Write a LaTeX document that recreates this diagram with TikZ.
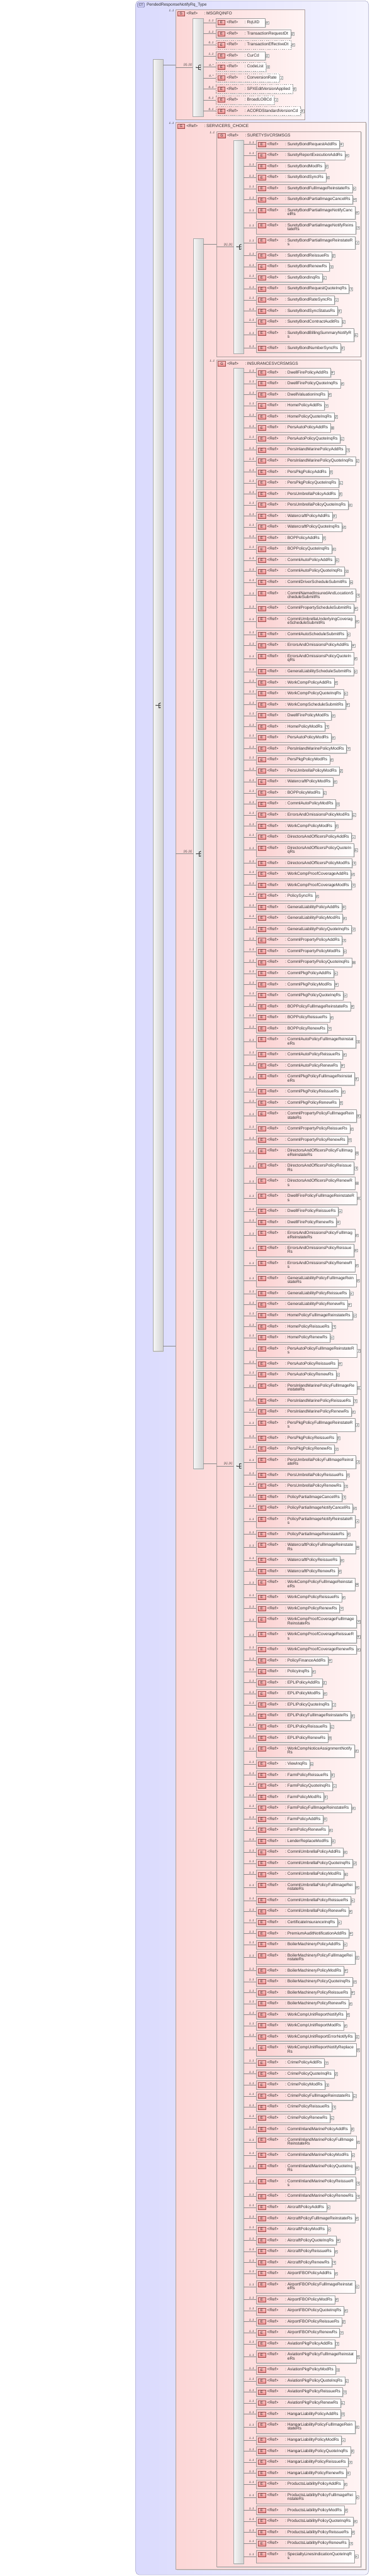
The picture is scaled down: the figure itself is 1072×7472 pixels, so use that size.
\documentclass[tikz,border=0pt]{standalone}
\usepackage{fontspec}
\setmainfont{Liberation Sans}
\usetikzlibrary{shadows}
\definecolor{ctL}{HTML}{DADAFD}
\definecolor{ctR}{HTML}{F4F4FF}
\definecolor{ctB}{HTML}{A9A9C9}
\definecolor{grL}{HTML}{FCD6D6}
\definecolor{grR}{HTML}{FFF4F4}
\definecolor{grB}{HTML}{ADA0A0}
\definecolor{elL}{HTML}{FBCFCF}
\definecolor{elB}{HTML}{9E9E9E}
\definecolor{icT}{HTML}{F9C6C6}
\definecolor{icM}{HTML}{EF8E8E}
\definecolor{icB}{HTML}{A05050}
\definecolor{txt}{HTML}{2E2E2E}
\definecolor{lin}{HTML}{8A8A8A}
\definecolor{brL}{HTML}{F7F7F7}
\definecolor{brR}{HTML}{D2D2D2}
\definecolor{brB}{HTML}{A8A8A8}
\definecolor{ctiF}{HTML}{C9C9F2}
\definecolor{ctiB}{HTML}{6A6A9A}
\newcommand\efont{\fontsize{12}{11.67}\selectfont}
\newcommand\mfont{\fontsize{8.5}{9}\selectfont\itshape}
\newdimen\rowtop
\newcount\ecount
\def\curx{742}
\def\curbar{b4}
\def\elhead{\rule{0pt}{9pt}\hspace*{25pt}\makebox[52pt][l]{<Ref>}\makebox[7pt][l]{:}}
\def\elfoot{\rule[-3pt]{0pt}{3pt}}
\newcommand\minname[1]{\setbox0\hbox{#1}\ifdim\wd0<45pt \hbox to 45pt{#1\hfil}\else\box0\fi}
\tikzset{
 ctbox/.style={draw=ctB, line width=1pt, rounded corners=10pt, left color=ctL, right color=ctR, anchor=north west, inner sep=0pt},
 cticon/.style={draw=ctiB, line width=0.7pt, rounded corners=2pt, fill=ctiF, minimum width=20pt, minimum height=13.5pt, inner sep=0pt, anchor=north west, font=\fontsize{9.5}{10}\selectfont, text=black!80},
 grp/.style={draw=grB, line width=0.9pt, left color=grL, right color=grR, anchor=north west, inner sep=0pt, drop shadow={shadow xshift=2.5pt,shadow yshift=-2.5pt,fill=black!18,opacity=1}},
 cbar/.style={draw=brB, line width=0.8pt, left color=brL, right color=brR, anchor=north west, inner sep=0pt, minimum width=29pt, drop shadow={shadow xshift=2pt,shadow yshift=-2pt,fill=black!15,opacity=1}},
 ebox/.style={draw=elB, line width=0.8pt, left color=elL, right color=white, anchor=north west, inner xsep=7pt, inner ysep=0pt, font=\efont, text=txt, drop shadow={shadow xshift=2.5pt,shadow yshift=-2.5pt,fill=black!16,opacity=1}},
 eicon/.style={draw=icB, line width=0.7pt, top color=icT, bottom color=icM, minimum width=21pt, minimum height=13pt, inner sep=0pt, anchor=north west, font=\fontsize{10}{10}\selectfont, text=black!85},
 plusbtn/.style={draw=black!35, fill=white, minimum size=8.5pt, inner sep=0pt, anchor=west, line width=0.5pt,
   path picture={\draw[black!45,line width=0.6pt] ([xshift=-2.3pt]path picture bounding box.center) -- ([xshift=2.3pt]path picture bounding box.center) ([yshift=-2.3pt]path picture bounding box.center) -- ([yshift=2.3pt]path picture bounding box.center);}},
 mult/.style={font=\mfont, text=txt, inner sep=0.5pt, anchor=south east},
 conn/.style={draw=lin, line width=0.8pt},
 icoc/.style={black!75, line width=0.8pt},
}
% element row: #1 multiplicity, #2 line style, #3 first line, #4 second line
\newcommand\elemrow[4]{%
  \global\advance\ecount by 1
  \edef\ename{e\the\ecount}%
  \pgfmathsetmacro\ry{\the\rowtop}%
  \ifx\relax#4\relax
    \node[ebox,#2,minimum height=25pt] (\ename) at (\curx,\ry) {\elhead\minname{#3}\elfoot};
    \global\advance\rowtop by 32pt
  \else
    \node[ebox,#2,minimum height=36.67pt,align=left] (\ename) at (\curx,\ry) {\elhead#3\\\hspace*{84pt}#4\elfoot};
    \global\advance\rowtop by 43.67pt
  \fi
  \node[eicon] (\ename i) at ([xshift=6pt,yshift=-6pt]\ename.north west) {E};
  \node[plusbtn] (\ename p) at ([xshift=1pt]\ename.east) {};
  \draw[conn] (\curbar.east |- \ename.west) -- (\ename.west);
  \node[mult] (\ename m) at ([xshift=-5pt,yshift=1.5pt]\ename.west) {#1};
}
\newcommand\er[2]{\elemrow{1..1}{solid}{#1}{#2}}
% group header: #1 group node, #2 name
\newcommand\grphead[2]{%
  \node[eicon] (#1i) at ([xshift=5pt,yshift=-5pt]#1.north west) {G};
  \node[anchor=base west,inner sep=0pt,font=\efont,text=txt] (#1t) at ([xshift=31.5pt,yshift=-15.5pt]#1.north west) {\makebox[52pt][l]{<Ref>}\makebox[6pt][l]{:}#2};
  \node[mult,anchor=north east] (#1m) at ([xshift=-4pt]#1.north west) {1..1};
}
% compositor icon on a bar
\newcommand\compicon[1]{%
  \fill[icoc] ([xshift=-5.5pt]#1.center) circle (1.6pt);
  \draw[icoc] ([xshift=-5.5pt]#1.center) -- ([xshift=1.5pt]#1.center);
  \draw[icoc] ([xshift=1.5pt,yshift=6.5pt]#1.center) -- ([xshift=1.5pt,yshift=-6.5pt]#1.center);
  \foreach \dy in {6.5,0,-6.5}{%
    \draw[icoc] ([xshift=1.5pt,yshift=\dy pt]#1.center) -- ([xshift=5pt,yshift=\dy pt]#1.center);
    \fill[icoc] ([xshift=6.5pt,yshift=\dy pt]#1.center) circle (1.7pt);}
}
\begin{document}
\begin{tikzpicture}[x=1pt,y=-1pt]
\useasboundingbox (0,0) rectangle (1072,7472);
% complex type
\node[ctbox,minimum width=675pt,minimum height=7466pt] (ct) at (393,2) {};
\node[cticon] (cti) at (398.5,7.5) {CT};
\node[anchor=base west,inner sep=0pt,font=\efont,text=txt] (ctt) at (425,18) {PendedResponseNotifyRq\_Type};
% groups
\node[grp,minimum width=373pt,minimum height=318pt] (g1) at (509,28) {};
\node[grp,minimum width=551pt,minimum height=7098pt] (g2) at (509,354) {};
\node[grp,minimum width=419pt,minimum height=652.7pt] (g3) at (627,381) {};
\node[grp,minimum width=419pt,minimum height=6402pt] (g4) at (627,1043) {};
\grphead{g1}{MSGRQINFO}
\grphead{g2}{SERVICERS\_CHOICE}
\grphead{g3}{SURETYSVCRSMSGS}
\grphead{g4}{INSURANCESVCRSMSGS}
% compositor bars
\node[cbar,minimum height=3747pt] (b0) at (443,172) {};
\node[cbar,minimum height=284pt,minimum width=30pt] (b1) at (559,53) {};
\node[cbar,minimum height=3568pt] (b2) at (560,692) {};
\node[cbar,minimum height=618.7pt] (b3) at (677,406) {};
\node[cbar,minimum height=6368pt] (b4) at (677,1068) {};
% group-level connectors
\draw[conn] (b0.east |- g1.west) -- (g1.west);
\draw[conn] (b0.east |- g2.west) -- (g2.west);
\draw[conn] (g1.west |- b1.west) -- (b1.west);
\draw[conn] (g2.west |- b2.west) -- (b2.west);
\draw[conn] (b2.east |- g3.west) -- (g3.west);
\draw[conn] (b2.east |- g4.west) -- (g4.west);
\draw[conn] (g3.west |- b3.west) -- (b3.west);
\draw[conn] (g4.west |- b4.west) -- (b4.west);
\node[mult] (b1l) at ([xshift=-2pt,yshift=1.5pt]b1.west) {[1]..[1]};
\node[mult] (b2l) at ([xshift=-3pt,yshift=1.5pt]b2.west) {[1]..[1]};
\node[mult] (b3l) at ([xshift=-3pt,yshift=1.5pt]b3.west) {[1]..[1]};
\node[mult] (b4l) at ([xshift=-3pt,yshift=1.5pt]b4.west) {[1]..[1]};
\compicon{b0}\compicon{b1}\compicon{b2}\compicon{b3}\compicon{b4}
% MSGRQINFO
\def\curx{625}\def\curbar{b1}\global\rowtop=53pt
\elemrow{1..1}{solid}{RqUID}{}
\elemrow{1..1}{solid}{TransactionRequestDt}{}
\elemrow{0..1}{dashed}{TransactionEffectiveDt}{}
\elemrow{1..1}{solid}{CurCd}{}
\elemrow{0..*}{dashed}{CodeList}{}
\elemrow{0..*}{dashed}{ConversionRate}{}
\elemrow{0..1}{dashed}{SPXEditVersionApplied}{}
\elemrow{0..1}{dashed}{BroadLOBCd}{}
\elemrow{0..1}{dashed}{ACORDStandardVersionCd}{}
% SURETYSVCRSMSGS
\def\curx{742}\def\curbar{b3}\global\rowtop=406pt
\er{SuretyBondRequestAddRs}{}
\er{SuretyReportExecutionAddRs}{}
\er{SuretyBondModRs}{}
\er{SuretyBondSyncRs}{}
\er{SuretyBondFullImageReinstateRs}{}
\er{SuretyBondPartialImageCancelRs}{}
\er{SuretyBondPartialImageNotifyCanc}{elRs}
\er{SuretyBondPartialImageNotifyReins}{tateRs}
\er{SuretyBondPartialImageReinstateR}{s}
\er{SuretyBondReissueRs}{}
\er{SuretyBondRenewRs}{}
\er{SuretyBondInqRs}{}
\er{SuretyBondRequestQuoteInqRs}{}
\er{SuretyBondRateSyncRs}{}
\er{SuretyBondSyncStatusRs}{}
\er{SuretyBondContractAuditRs}{}
\er{SuretyBondBillingSummaryNotifyR}{s}
\er{SuretyBondNumberSyncRs}{}
% INSURANCESVCRSMSGS
\def\curx{742}\def\curbar{b4}\global\rowtop=1068pt
\er{DwellFirePolicyAddRs}{}
\er{DwellFirePolicyQuoteInqRs}{}
\er{DwellValuationInqRs}{}
\er{HomePolicyAddRs}{}
\er{HomePolicyQuoteInqRs}{}
\er{PersAutoPolicyAddRs}{}
\er{PersAutoPolicyQuoteInqRs}{}
\er{PersInlandMarinePolicyAddRs}{}
\er{PersInlandMarinePolicyQuoteInqRs}{}
\er{PersPkgPolicyAddRs}{}
\er{PersPkgPolicyQuoteInqRs}{}
\er{PersUmbrellaPolicyAddRs}{}
\er{PersUmbrellaPolicyQuoteInqRs}{}
\er{WatercraftPolicyAddRs}{}
\er{WatercraftPolicyQuoteInqRs}{}
\er{BOPPolicyAddRs}{}
\er{BOPPolicyQuoteInqRs}{}
\er{CommlAutoPolicyAddRs}{}
\er{CommlAutoPolicyQuoteInqRs}{}
\er{CommlDriverScheduleSubmitRs}{}
\er{CommlNamedInsuredAndLocationS}{cheduleSubmitRs}
\er{CommlPropertyScheduleSubmitRs}{}
\er{CommlUmbrellaUnderlyingCoverag}{eScheduleSubmitRs}
\er{CommlAutoScheduleSubmitRs}{}
\er{ErrorsAndOmissionsPolicyAddRs}{}
\er{ErrorsAndOmissionsPolicyQuoteIn}{qRs}
\er{GeneralLiabilityScheduleSubmitRs}{}
\er{WorkCompPolicyAddRs}{}
\er{WorkCompPolicyQuoteInqRs}{}
\er{WorkCompScheduleSubmitRs}{}
\er{DwellFirePolicyModRs}{}
\er{HomePolicyModRs}{}
\er{PersAutoPolicyModRs}{}
\er{PersInlandMarinePolicyModRs}{}
\er{PersPkgPolicyModRs}{}
\er{PersUmbrellaPolicyModRs}{}
\er{WatercraftPolicyModRs}{}
\er{BOPPolicyModRs}{}
\er{CommlAutoPolicyModRs}{}
\er{ErrorsAndOmissionsPolicyModRs}{}
\er{WorkCompPolicyModRs}{}
\er{DirectorsAndOfficersPolicyAddRs}{}
\er{DirectorsAndOfficersPolicyQuoteIn}{qRs}
\er{DirectorsAndOfficersPolicyModRs}{}
\er{WorkCompProofCoverageAddRs}{}
\er{WorkCompProofCoverageModRs}{}
\er{PolicySyncRs}{}
\er{GeneralLiabilityPolicyAddRs}{}
\er{GeneralLiabilityPolicyModRs}{}
\er{GeneralLiabilityPolicyQuoteInqRs}{}
\er{CommlPropertyPolicyAddRs}{}
\er{CommlPropertyPolicyModRs}{}
\er{CommlPropertyPolicyQuoteInqRs}{}
\er{CommlPkgPolicyAddRs}{}
\er{CommlPkgPolicyModRs}{}
\er{CommlPkgPolicyQuoteInqRs}{}
\er{BOPPolicyFullImageReinstateRs}{}
\er{BOPPolicyReissueRs}{}
\er{BOPPolicyRenewRs}{}
\er{CommlAutoPolicyFullImageReinstat}{eRs}
\er{CommlAutoPolicyReissueRs}{}
\er{CommlAutoPolicyRenewRs}{}
\er{CommlPkgPolicyFullImageReinstat}{eRs}
\er{CommlPkgPolicyReissueRs}{}
\er{CommlPkgPolicyRenewRs}{}
\er{CommlPropertyPolicyFullImageRein}{stateRs}
\er{CommlPropertyPolicyReissueRs}{}
\er{CommlPropertyPolicyRenewRs}{}
\er{DirectorsAndOfficersPolicyFullImag}{eReinstateRs}
\er{DirectorsAndOfficersPolicyReissue}{Rs}
\er{DirectorsAndOfficersPolicyRenewR}{s}
\er{DwellFirePolicyFullImageReinstateR}{s}
\er{DwellFirePolicyReissueRs}{}
\er{DwellFirePolicyRenewRs}{}
\er{ErrorsAndOmissionsPolicyFullImag}{eReinstateRs}
\er{ErrorsAndOmissionsPolicyReissue}{Rs}
\er{ErrorsAndOmissionsPolicyRenewR}{s}
\er{GeneralLiabilityPolicyFullImageRein}{stateRs}
\er{GeneralLiabilityPolicyReissueRs}{}
\er{GeneralLiabilityPolicyRenewRs}{}
\er{HomePolicyFullImageReinstateRs}{}
\er{HomePolicyReissueRs}{}
\er{HomePolicyRenewRs}{}
\er{PersAutoPolicyFullImageReinstateR}{s}
\er{PersAutoPolicyReissueRs}{}
\er{PersAutoPolicyRenewRs}{}
\er{PersInlandMarinePolicyFullImageRe}{instateRs}
\er{PersInlandMarinePolicyReissueRs}{}
\er{PersInlandMarinePolicyRenewRs}{}
\er{PersPkgPolicyFullImageReinstateR}{s}
\er{PersPkgPolicyReissueRs}{}
\er{PersPkgPolicyRenewRs}{}
\er{PersUmbrellaPolicyFullImageReinst}{ateRs}
\er{PersUmbrellaPolicyReissueRs}{}
\er{PersUmbrellaPolicyRenewRs}{}
\er{PolicyPartialImageCancelRs}{}
\er{PolicyPartialImageNotifyCancelRs}{}
\er{PolicyPartialImageNotifyReinstateR}{s}
\er{PolicyPartialImageReinstateRs}{}
\er{WatercraftPolicyFullImageReinstate}{Rs}
\er{WatercraftPolicyReissueRs}{}
\er{WatercraftPolicyRenewRs}{}
\er{WorkCompPolicyFullImageReinstat}{eRs}
\er{WorkCompPolicyReissueRs}{}
\er{WorkCompPolicyRenewRs}{}
\er{WorkCompProofCoverageFullImage}{ReinstateRs}
\er{WorkCompProofCoverageReissueR}{s}
\er{WorkCompProofCoverageRenewRs}{}
\er{PolicyFinanceAddRs}{}
\er{PolicyInqRs}{}
\er{EPLIPolicyAddRs}{}
\er{EPLIPolicyModRs}{}
\er{EPLIPolicyQuoteInqRs}{}
\er{EPLIPolicyFullImageReinstateRs}{}
\er{EPLIPolicyReissueRs}{}
\er{EPLIPolicyRenewRs}{}
\er{WorkCompNoticeAssignmentNotify}{Rs}
\er{ViewInqRs}{}
\er{FarmPolicyReissueRs}{}
\er{FarmPolicyQuoteInqRs}{}
\er{FarmPolicyModRs}{}
\er{FarmPolicyFullImageReinstateRs}{}
\er{FarmPolicyAddRs}{}
\er{FarmPolicyRenewRs}{}
\er{LenderReplaceModRs}{}
\er{CommlUmbrellaPolicyAddRs}{}
\er{CommlUmbrellaPolicyQuoteInqRs}{}
\er{CommlUmbrellaPolicyModRs}{}
\er{CommlUmbrellaPolicyFullImageRei}{nstateRs}
\er{CommlUmbrellaPolicyReissueRs}{}
\er{CommlUmbrellaPolicyRenewRs}{}
\er{CertificateInsuranceInqRs}{}
\er{PremiumAuditNotificationAddRs}{}
\er{BoilerMachineryPolicyAddRs}{}
\er{BoilerMachineryPolicyFullImageRei}{nstateRs}
\er{BoilerMachineryPolicyModRs}{}
\er{BoilerMachineryPolicyQuoteInqRs}{}
\er{BoilerMachineryPolicyReissueRs}{}
\er{BoilerMachineryPolicyRenewRs}{}
\er{WorkCompUnitReportNotifyRs}{}
\er{WorkCompUnitReportModRs}{}
\er{WorkCompUnitReportErrorNotifyRs}{}
\er{WorkCompUnitReportNotifyReplace}{Rs}
\er{CrimePolicyAddRs}{}
\er{CrimePolicyQuoteInqRs}{}
\er{CrimePolicyModRs}{}
\er{CrimePolicyFullImageReinstateRs}{}
\er{CrimePolicyReissueRs}{}
\er{CrimePolicyRenewRs}{}
\er{CommlInlandMarinePolicyAddRs}{}
\er{CommlInlandMarinePolicyFullImage}{ReinstateRs}
\er{CommlInlandMarinePolicyModRs}{}
\er{CommlInlandMarinePolicyQuoteInq}{Rs}
\er{CommlInlandMarinePolicyReissueR}{s}
\er{CommlInlandMarinePolicyRenewRs}{}
\er{AircraftPolicyAddRs}{}
\er{AircraftPolicyFullImageReinstateRs}{}
\er{AircraftPolicyModRs}{}
\er{AircraftPolicyQuoteInqRs}{}
\er{AircraftPolicyReissueRs}{}
\er{AircraftPolicyRenewRs}{}
\er{AirportFBOPolicyAddRs}{}
\er{AirportFBOPolicyFullImageReinstat}{eRs}
\er{AirportFBOPolicyModRs}{}
\er{AirportFBOPolicyQuoteInqRs}{}
\er{AirportFBOPolicyReissueRs}{}
\er{AirportFBOPolicyRenewRs}{}
\er{AviationPkgPolicyAddRs}{}
\er{AviationPkgPolicyFullImageReinstat}{eRs}
\er{AviationPkgPolicyModRs}{}
\er{AviationPkgPolicyQuoteInqRs}{}
\er{AviationPkgPolicyReissueRs}{}
\er{AviationPkgPolicyRenewRs}{}
\er{HangarLiabilityPolicyAddRs}{}
\er{HangarLiabilityPolicyFullImageRein}{stateRs}
\er{HangarLiabilityPolicyModRs}{}
\er{HangarLiabilityPolicyQuoteInqRs}{}
\er{HangarLiabilityPolicyReissueRs}{}
\er{HangarLiabilityPolicyRenewRs}{}
\er{ProductsLiabilityPolicyAddRs}{}
\er{ProductsLiabilityPolicyFullImageRei}{nstateRs}
\er{ProductsLiabilityPolicyModRs}{}
\er{ProductsLiabilityPolicyQuoteInqRs}{}
\er{ProductsLiabilityPolicyReissueRs}{}
\er{ProductsLiabilityPolicyRenewRs}{}
\er{SpecialtyLinesIndicationQuoteInqR}{s}
\end{tikzpicture}
\end{document}
